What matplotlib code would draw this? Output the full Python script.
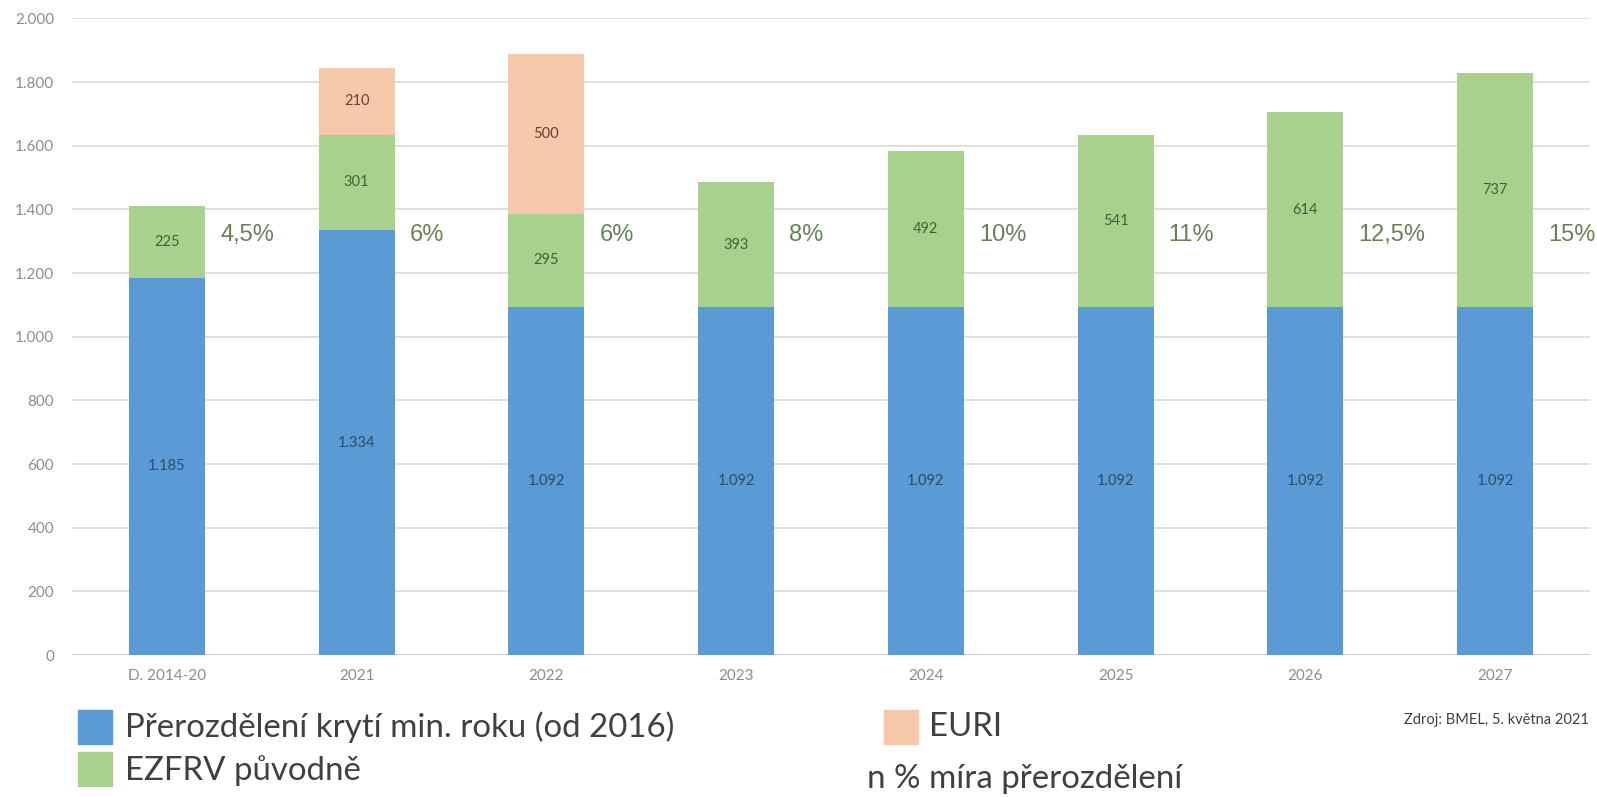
import matplotlib.pyplot as plt
from matplotlib.patches import Rectangle
from matplotlib.ticker import FuncFormatter

'''Colors'''
BLUE = '#5b9bd5'
GREEN = '#a9d18e'
PEACH = '#f6c7a8'
GRID = '#d9d9d9'
TICK_GRAY = '#8c8c8c'
PCT_GREEN = '#668255'

categories = ['D. 2014-20', '2021', '2022', '2023', '2024', '2025', '2026', '2027']
blue_vals = [1185, 1334, 1092, 1092, 1092, 1092, 1092, 1092]
green_vals = [225, 301, 295, 393, 492, 541, 614, 737]
euri_vals = [0, 210, 500, 0, 0, 0, 0, 0]
rates = ['4,5%', '6%', '6%', '8%', '10%', '11%', '12,5%', '15%']


def thousands(v, pos=None):
    return f'{int(v):,}'.replace(',', '.')


fig = plt.figure(figsize=(15.97, 7.97), dpi=100)
ax = fig.add_axes([0.0451, 0.178, 0.9505, 0.799])

x = range(len(categories))
w = 0.4
green_bottom = blue_vals
euri_bottom = [b + g for b, g in zip(blue_vals, green_vals)]

ax.bar(x, blue_vals, w, color=BLUE, zorder=2)
ax.bar(x, green_vals, w, bottom=green_bottom, color=GREEN, zorder=2)
ax.bar(x, euri_vals, w, bottom=euri_bottom, color=PEACH, zorder=2)

lbl = dict(ha='center', va='center', fontsize=10.5, family='Lato', zorder=3)
for i in x:
    ax.text(i, blue_vals[i] / 2, thousands(blue_vals[i]), color='#2e4a68', **lbl)
    ax.text(i, blue_vals[i] + green_vals[i] / 2, str(green_vals[i]), color='#3f6232', **lbl)
    if euri_vals[i]:
        ax.text(i, euri_bottom[i] + euri_vals[i] / 2, str(euri_vals[i]), color='#5e4536', **lbl)
    # redistribution rate, right of the bar
    ax.text(i + 0.28, 1320, rates[i], ha='left', va='center', fontsize=17,
            family='Liberation Sans', color=PCT_GREEN, zorder=3)

ax.set_xlim(-0.5, len(categories) - 0.5)
ax.set_ylim(0, 2000)
ax.set_yticks(range(0, 2001, 200))
ax.yaxis.set_major_formatter(FuncFormatter(thousands))
ax.set_xticks(list(x))
ax.set_xticklabels(categories)
ax.grid(axis='y', color=GRID, linewidth=1.2, zorder=0)
ax.set_axisbelow(True)
for sp in ax.spines.values():
    sp.set_visible(False)
ax.axhline(0, color='#c8c8c8', linewidth=1.2, zorder=1)
ax.tick_params(length=0, labelsize=11, colors=TICK_GRAY, pad=10)
for t in ax.get_xticklabels() + ax.get_yticklabels():
    t.set_family('Lato')
ax.tick_params(axis='y', pad=13)

'''Manual legend below the plot'''
W, H = 1597.0, 797.0


def square(px, py, color):
    fig.patches.append(Rectangle((px / W, 1 - (py + 34) / H), 34 / W, 34 / H,
                                 transform=fig.transFigure, color=color))


square(78, 710, BLUE)
square(78, 752, GREEN)
square(884, 710, PEACH)
leg = dict(fontsize=23.8, family='Lato', color='#404040', va='center', ha='left')
fig.text(125 / W, 1 - 727 / H, 'Přerozdělení krytí min. roku (od 2016)', **leg)
fig.text(125 / W, 1 - 771 / H, 'EZFRV původně', **leg)
fig.text(929 / W, 1 - 727 / H, 'EURI', **leg)
fig.text(867 / W, 1 - 779 / H, 'n % míra přerozdělení', **leg)
fig.text(1589 / W, 1 - 720 / H, 'Zdroj: BMEL, 5. května 2021', fontsize=10.5,
         family='Lato', color='#404040', va='center', ha='right')

fig.savefig('out.png', dpi=100)
